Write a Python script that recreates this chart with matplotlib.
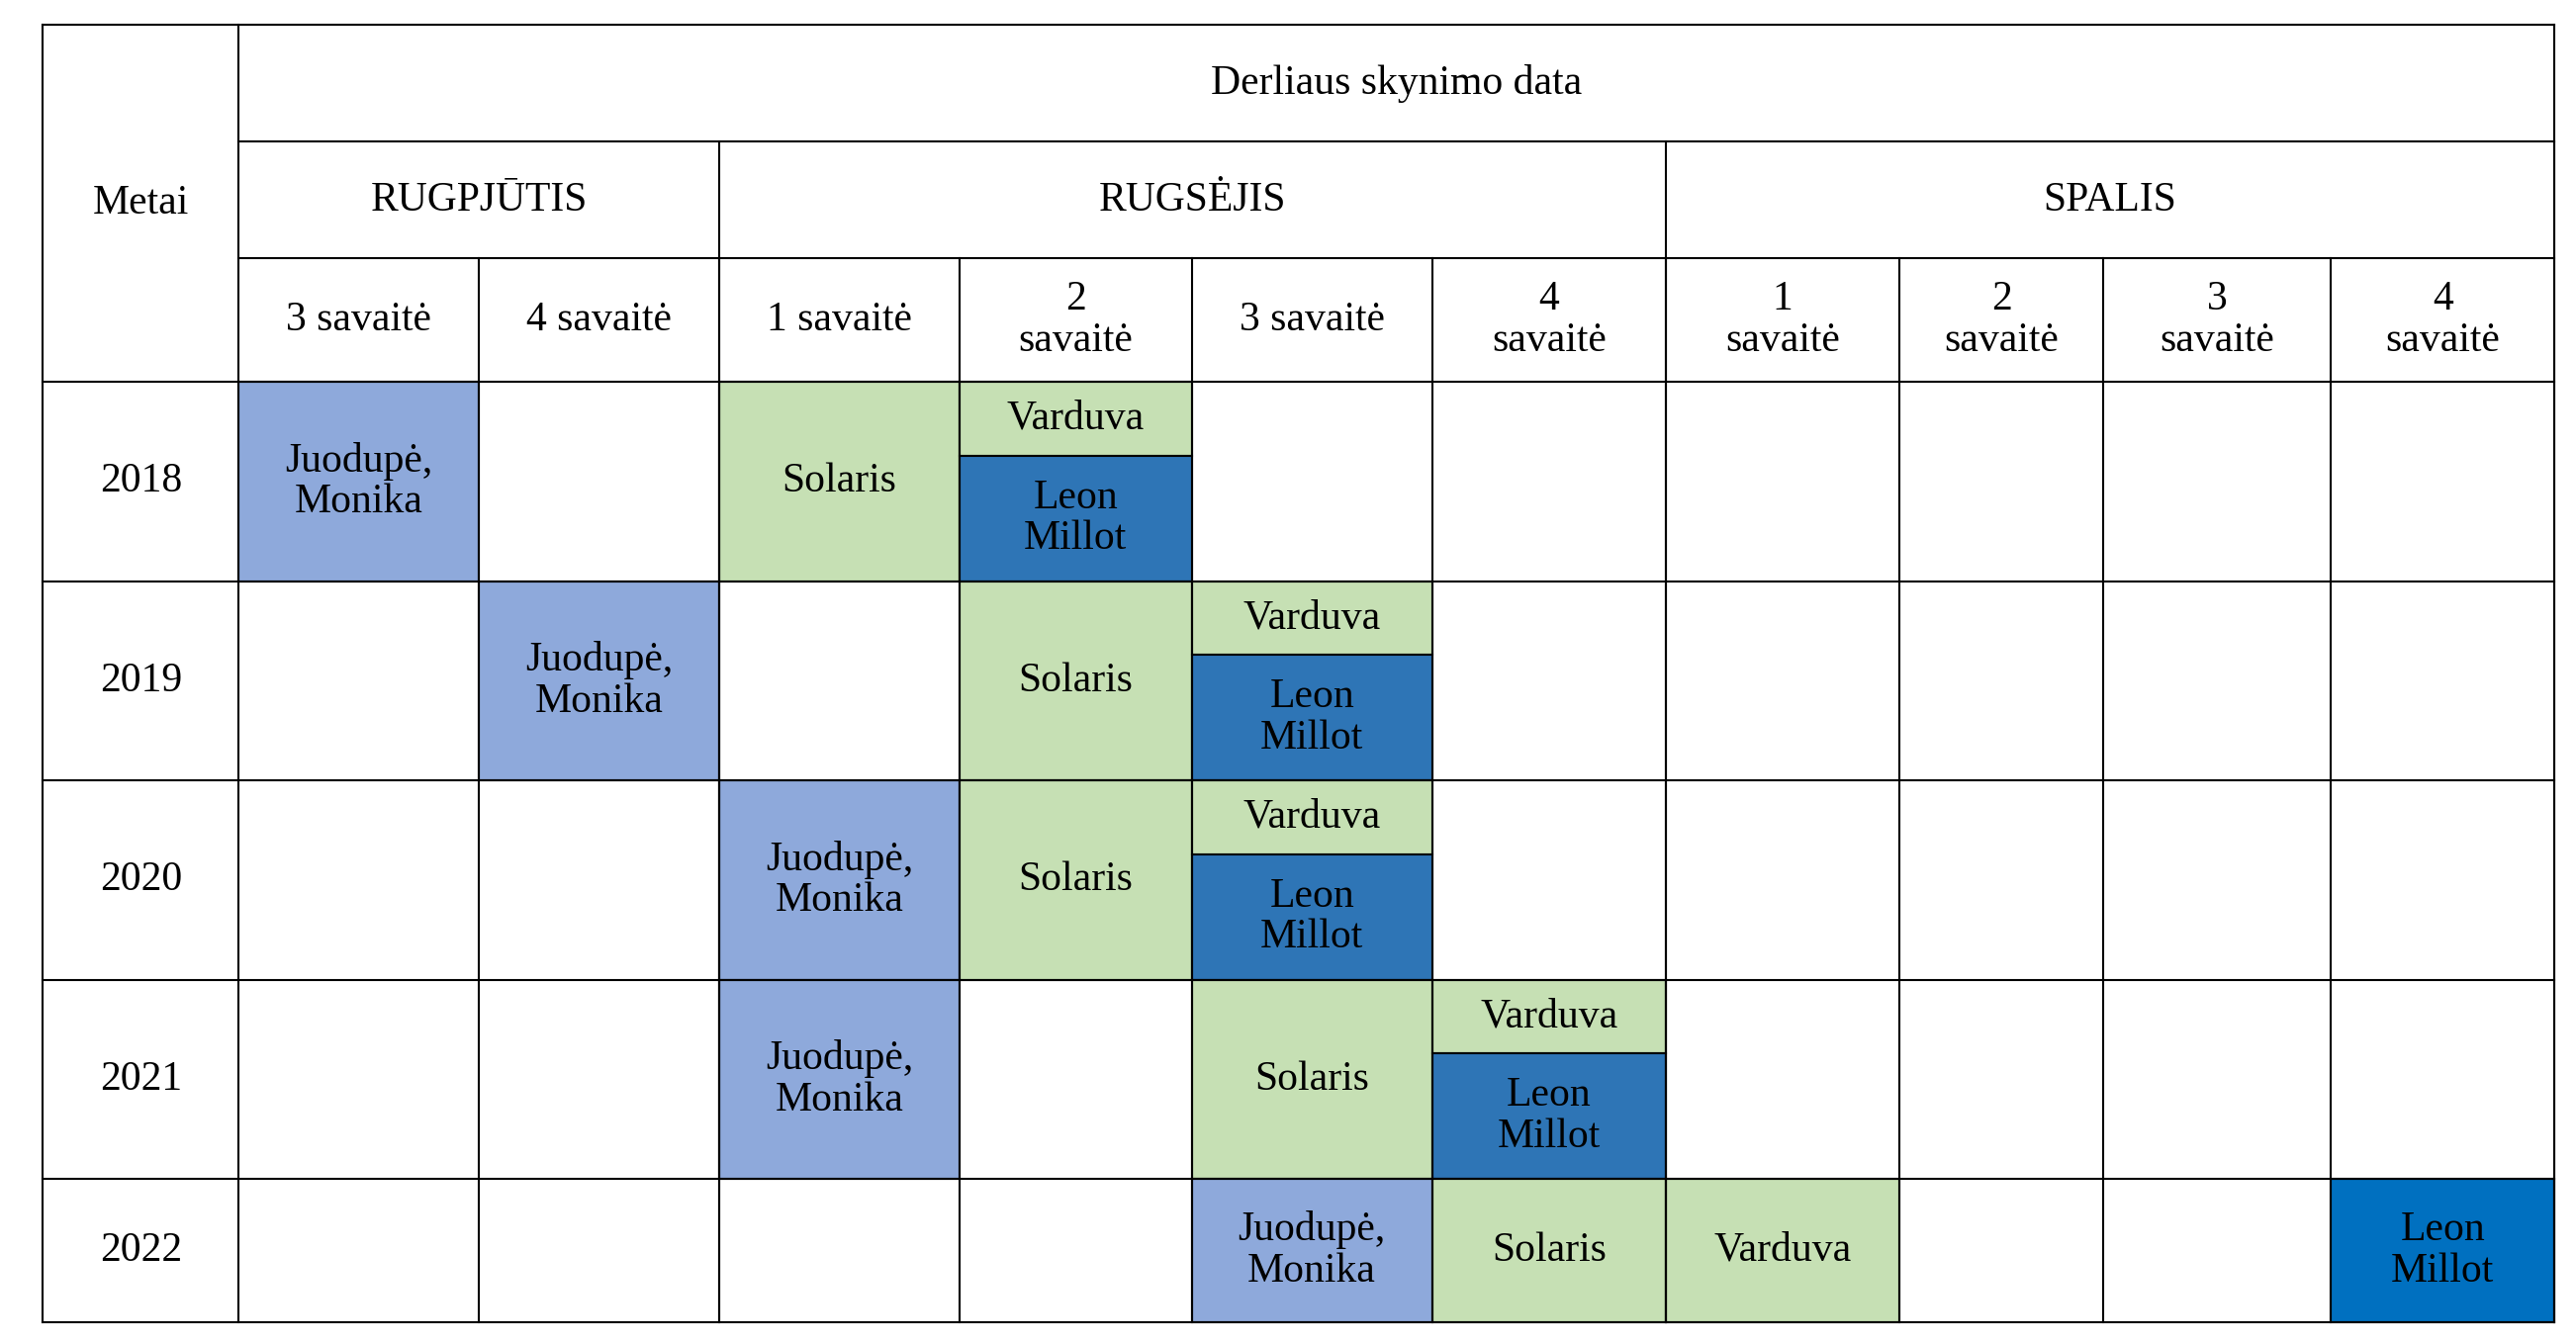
import matplotlib.pyplot as plt
from matplotlib.patches import Rectangle

plt.rcParams['font.family'] = ['Liberation Serif', 'DejaVu Serif']

years = ["2018", "2019", "2020", "2021", "2022"]
months = ["RUGPJŪTIS", "RUGSĖJIS", "SPALIS"]
month_spans = [(0, 2), (2, 6), (6, 10)]
weeks = ["3 savaitė", "4 savaitė", "1 savaitė", "2\nsavaitė", "3 savaitė",
         "4\nsavaitė", "1\nsavaitė", "2\nsavaitė", "3\nsavaitė", "4\nsavaitė"]

juodupe_col = [0, 1, 2, 2, 4]
solaris_col = [2, 3, 3, 4, 5]
varduva_col = [3, 4, 4, 5, 6]
leon_col = [3, 4, 4, 5, 9]

c_juod = "#8EA9DB"
c_sol = "#C6E0B4"
c_leon = "#2E75B6"
c_leon22 = "#0070C0"

# layout (display units, y down)
xs = [26, 145, 291, 437, 583, 724, 870, 1012, 1154, 1278, 1416, 1552]
ys = [15, 86, 157, 232, 353, 474, 595, 716, 803]
FS = 30

fig = plt.figure(figsize=(26.04, 13.57), dpi=100)
ax = fig.add_axes([0, 0, 1, 1])
ax.set_xlim(0, 1565)
ax.set_ylim(815, 0)
ax.axis("off")


def cell(x0, x1, y0, y1, color=None, text=None):
    if color:
        ax.add_patch(Rectangle((x0, y0), x1 - x0, y1 - y0, facecolor=color,
                               edgecolor="black", lw=1.5))
    if text:
        ax.text((x0 + x1) / 2, (y0 + y1) / 2, text, ha="center", va="center",
                fontsize=FS, linespacing=1.1)


for i, yr in enumerate(years):
    y0, y1 = ys[i + 3], ys[i + 4]
    cell(xs[0], xs[1], y0, y1, text=yr)
    jc, sc, vc, lc = juodupe_col[i], solaris_col[i], varduva_col[i], leon_col[i]
    cell(xs[jc + 1], xs[jc + 2], y0, y1, c_juod, "Juodupė,\nMonika")
    cell(xs[sc + 1], xs[sc + 2], y0, y1, c_sol, "Solaris")
    if vc == lc:
        ym = y0 + (y1 - y0) * 0.37
        cell(xs[vc + 1], xs[vc + 2], y0, ym, c_sol, "Varduva")
        cell(xs[lc + 1], xs[lc + 2], ym, y1, c_leon, "Leon\nMillot")
    else:
        cell(xs[vc + 1], xs[vc + 2], y0, y1, c_sol, "Varduva")
        cell(xs[lc + 1], xs[lc + 2], y0, y1, c_leon22, "Leon\nMillot")

# headers
cell(xs[0], xs[1], ys[0], ys[3], text="Metai")
cell(xs[1], xs[-1], ys[0], ys[1], text="Derliaus skynimo data")
for m, (a, b) in zip(months, month_spans):
    cell(xs[a + 1], xs[b + 1], ys[1], ys[2], text=m)
for j, w in enumerate(weeks):
    cell(xs[j + 1], xs[j + 2], ys[2], ys[3], text=w)

# grid lines
lw = 1.5
ax.plot([xs[0], xs[-1]], [ys[0], ys[0]], color="black", lw=lw)
ax.plot([xs[0], xs[-1]], [ys[-1], ys[-1]], color="black", lw=lw)
ax.plot([xs[1], xs[-1]], [ys[1], ys[1]], color="black", lw=lw)
ax.plot([xs[1], xs[-1]], [ys[2], ys[2]], color="black", lw=lw)
for y in ys[3:-1]:
    ax.plot([xs[0], xs[-1]], [y, y], color="black", lw=lw)
for x in (xs[0], xs[1], xs[-1]):
    ax.plot([x, x], [ys[0], ys[-1]], color="black", lw=lw)
for a, b in month_spans:
    ax.plot([xs[b + 1]] * 2, [ys[1], ys[-1]], color="black", lw=lw)
for x in xs[2:-1]:
    ax.plot([x, x], [ys[2], ys[-1]], color="black", lw=lw)

fig.savefig("out.png", dpi=100)
